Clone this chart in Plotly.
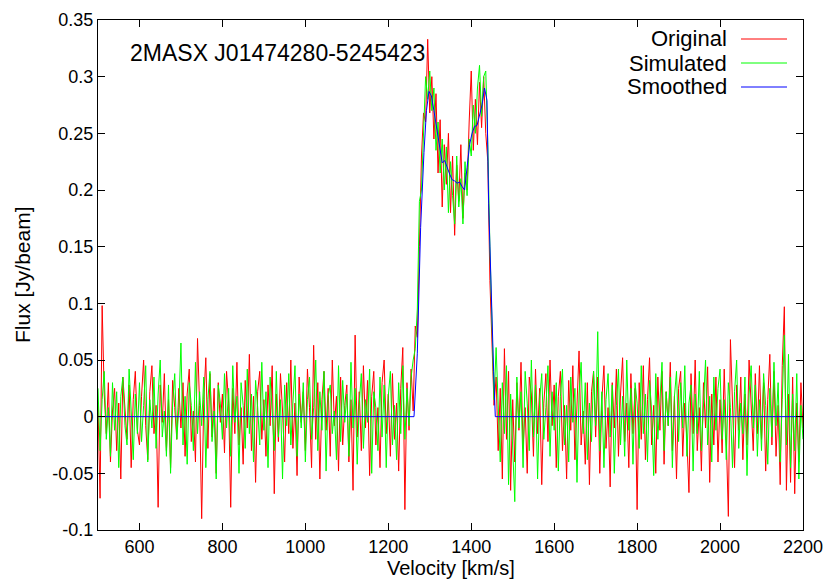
"""
Spectrum of 2MASX J01474280-5245423: original, simulated and smoothed HI profile.
"""

import plotly.graph_objects as go

# --- Data ---------------------------------------------------------------
# channel grid (km/s)
V_START = 500
V_STEP = 5

# Original spectrum, mJy/beam, one row per 100 km/s (500 ... 2200)
ORIGINAL_MJY = [
    10, -72, 98, 20, -15, 30, -40, 5, 25, -30, 12, -55, 35, 2, -20, 28, -45, 15, 40, -12,
    -25, 18, 50, -8, -38, 22, 45, -15, 10, -80, 28, -5, 38, -30, 15, -45, 32, 8, -20, 25,
    -10, 30, -35, 20, 42, -22, 5, -40, 69, 10, -90, 15, 52, -28, 38, -18, 25, -50, 30, -5,
    20, -32, 40, 12, -80, 25, -15, 48, -25, 8, -42, 32, -10, 55, -30, 18, -58, 22, 40, -20,
    15, -35, 28, -8, 45, -68, 20, -22, 38, 5, -40, 30, -15, 50, -28, 12, -52, 35, -5, 22,
    -30, 42, 8, -45, 63, -20, 30, -55, 15, 40, -12, 25, -35, 50, -8, 18, -48, 35, -25, 10,
    28, -40, 15, -65, 72, -18, 22, -30, 45, -10, 32, -52, 18, 40, -25, 8, -45, 30, 50, -15,
    20, -35, 38, -20, 12, -48, 25, 61, -82, 30, -12, 42, 5, 80, 70, 150, 230, 268, 260, 333,
    268, 300, 245, 285, 215, 262, 185, 240, 205, 250, 180, 230, 160, 222, 190, 240, 175, 215, 200, 260,
    305, 235, 280, 240, 295, 255, 300, 250, 225, 120, 60, 10, 35, -30, 25, -55, 60, -20, 40, -65,
    15, -40, 30, -12, 48, -28, 8, -50, 35, 20, -35, 42, -15, 25, -60, 12, 38, -22, 50, -8,
    28, -45, 18, 40, -30, 10, -55, 32, -12, 45, -38, 20, 58, -25, 5, -42, 30, -60, 22, 40,
    -18, 35, -50, 15, 45, -28, 8, -62, 30, -10, 42, -35, 20, 52, -22, 12, -45, 38, -15, 25,
    -82, 30, -20, 45, -38, 15, 52, -25, 10, -50, 35, -12, 40, -42, 22, -8, 48, -30, 18, -55,
    25, 40, -35, 12, -20, -67, 38, -15, 50, -30, 8, -48, 30, -10, 44, -58, 20, -25, 35, -40,
    15, -32, 42, -18, -88, 68, 10, -45, 28, -12, 35, -38, 20, -25, 50, 5, -30, 38, -15, 45,
    -20, 30, -48, 15, 55, -25, 40, -35, 10, -60, 45, 97, -65, 20, -58, 35, -68, 12, -40, 30,
    -10,
]

# Simulated spectrum, mJy/beam, same channels
SIMULATED_MJY = [
    25, -30, 15, 40, -20, 8, -35, 30, -12, 22, -45, 18, 35, -8, -25, 42, 5, -38, 20, -15,
    30, -22, 10, 45, -40, 15, -10, 35, -28, 20, 50, -18, 5, -35, 28, -50, 12, 38, -20, 8,
    65, -25, 18, -42, 30, 10, -30, 48, -15, 22, -8, 35, -45, 15, 40, -22, 5, -55, 28, 12,
    -20, 38, -10, 25, -35, 45, -5, 18, -50, 30, 10, -28, 42, -15, 20, -40, 32, 8, -25, 48,
    -12, 22, -45, 35, 5, -30, 40, -18, 15, -55, 28, -8, 38, -25, 12, 45, -35, 20, -10, 30,
    -40, 15, 35, -20, 8, 50, -30, 22, -12, 40, -48, 18, 28, -15, 5, -38, 45, -22, 32, -5,
    20, -35, 48, -10, 25, -42, 12, 38, -28, 15, -5, 42, -50, 22, 8, -30, 35, -18, 28, -45,
    18, 40, -25, 10, -38, 30, -15, 45, -20, 25, -8, 35, 50, 60, 95, 190, 200, 255, 300, 280,
    305, 270, 290, 235, 260, 215, 245, 200, 238, 180, 225, 195, 170, 230, 185, 210, 170, 225, 195, 245,
    230, 275, 250, 290, 310, 265, 300, 305, 240, 150, 80, 15, 61, 10, -40, 30, -15, 45, -60, 20,
    -25, -75, 35, -10, 22, -45, 40, 12, -30, 50, -18, 28, -55, 15, 38, -20, 8, 45, -35, 22,
    -12, 30, -48, 18, 42, -25, 10, -40, 35, -5, 25, -58, 20, 48, -15, 30, -38, 12, -22, 40,
    -8, 75, -30, 22, -45, 15, 38, -18, 28, -50, 10, 42, -25, 18, -35, 50, -12, 25, -42, 30,
    12, -28, 45, -15, 20, -40, 32, 5, -52, 38, -20, 15, 48, -30, 22, -8, 35, -45, 18, 40,
    -22, 30, -10, 45, -35, 12, 28, -48, 20, -15, 40, -30, 8, 50, -25, 18, -40, 35, -12, 25,
    42, -20, 15, -38, 30, 8, -45, 22, 50, -28, 12, -15, 35, -52, 20, 45, -10, 28, -35, 15,
    -30, 38, 10, -42, 25, -18, 48, -8, 30, -40, 15, 72, -25, 55, -45, 20, -30, 38, -55, 10,
    -20,
]

# Smoothed profile (km/s, Jy/beam)
SMOOTH_V = [500, 1262, 1270, 1278, 1286, 1292, 1298, 1304, 1310, 1316,
            1322, 1330, 1336, 1342, 1348, 1354, 1360, 1366, 1372, 1378,
            1384, 1390, 1396, 1402, 1408, 1414, 1420, 1426, 1432, 1438,
            1442, 1446, 1450, 1454, 1458, 2200]
SMOOTH_FLUX = [0, 0, 0.056, 0.167, 0.233, 0.270, 0.287, 0.283, 0.270, 0.255,
               0.240, 0.224, 0.226, 0.219, 0.214, 0.209, 0.208, 0.206, 0.207, 0.203,
               0.200, 0.220, 0.240, 0.250, 0.256, 0.257, 0.265, 0.275, 0.290, 0.279,
               0.188, 0.130, 0.085, 0.040, 0, 0]

X_TICKS = [600, 800, 1000, 1200, 1400, 1600, 1800, 2000, 2200]
Y_TICKS = [-0.1, -0.05, 0, 0.05, 0.1, 0.15, 0.2, 0.25, 0.3, 0.35]
Y_TICK_TEXT = ["-0.1", "-0.05", "0", "0.05", "0.1", "0.15", "0.2", "0.25", "0.3", "0.35"]

SOURCE_NAME = "2MASX J01474280-5245423"
SERIES_NAMES = ["Original", "Simulated", "Smoothed"]
SERIES_COLORS = ["#ff0000", "#00ff00", "#0000ff"]

# --- Figure ---------------------------------------------------------------
velocity = [V_START + V_STEP * i for i in range(len(ORIGINAL_MJY))]
original = [v / 1000 for v in ORIGINAL_MJY]
simulated = [v / 1000 for v in SIMULATED_MJY]

FONT = "Liberation Sans, Arial, Helvetica, sans-serif"

# plot area in pixels
L, R, T, B = 98, 803, 20, 530


def px(x):
    return (x - L) / (R - L)


def py(y):
    return (B - y) / (B - T)


fig = go.Figure()

for name, ys, color in zip(SERIES_NAMES[:2], [original, simulated], SERIES_COLORS[:2]):
    fig.add_trace(
        go.Scatter(x=velocity, y=ys, name=name, mode="lines",
                   line=dict(color=color, width=1))
    )

fig.add_trace(
    go.Scatter(x=SMOOTH_V, y=SMOOTH_FLUX, name=SERIES_NAMES[2], mode="lines",
               line=dict(color=SERIES_COLORS[2], width=1))
)

axis_common = dict(
    showline=True, linecolor="black", linewidth=1, mirror="ticks",
    ticks="inside", ticklen=7, tickcolor="black", tickwidth=1,
    showgrid=False, zeroline=False, automargin=False,
    tickfont=dict(family=FONT, size=18, color="black"),
)

fig.update_xaxes(range=[500, 2200], tickvals=X_TICKS, **axis_common)
fig.update_yaxes(range=[-0.1, 0.35], tickvals=Y_TICKS, ticktext=Y_TICK_TEXT,
                 **axis_common)

annotations = [
    dict(text=SOURCE_NAME, x=px(128), y=py(53), xanchor="left", yanchor="middle",
         font=dict(size=23)),
    dict(text="Velocity [km/s]", x=px(451), y=py(568), xanchor="center",
         yanchor="middle", font=dict(size=20)),
    dict(text="Flux [Jy/beam]", x=px(22), y=py(275), xanchor="center",
         yanchor="middle", textangle=-90, font=dict(size=21)),
]

legend_y = [39, 63, 87]
shapes = []
for name, color, yy in zip(SERIES_NAMES, SERIES_COLORS, legend_y):
    annotations.append(
        dict(text=name, x=px(729), y=py(yy), xanchor="right", yanchor="middle",
             font=dict(size=22))
    )
    shapes.append(
        dict(type="line", xref="paper", yref="paper", x0=px(741), x1=px(787),
             y0=py(yy), y1=py(yy), line=dict(color=color, width=1))
    )

for a in annotations:
    a.update(xref="paper", yref="paper", showarrow=False)
    a["font"].update(family=FONT, color="black")

fig.update_layout(
    width=830, height=581,
    margin=dict(l=L, r=830 - R, t=T, b=581 - B),
    paper_bgcolor="white", plot_bgcolor="white",
    showlegend=False,
    annotations=annotations,
    shapes=shapes,
)

# the page body has a default 8px margin; drop it so the figure sits at 0,0
fig.write_html(
    "out.html",
    config={"displayModeBar": False},
    post_script="document.body.style.margin='0px';document.body.style.overflow='hidden';",
)
